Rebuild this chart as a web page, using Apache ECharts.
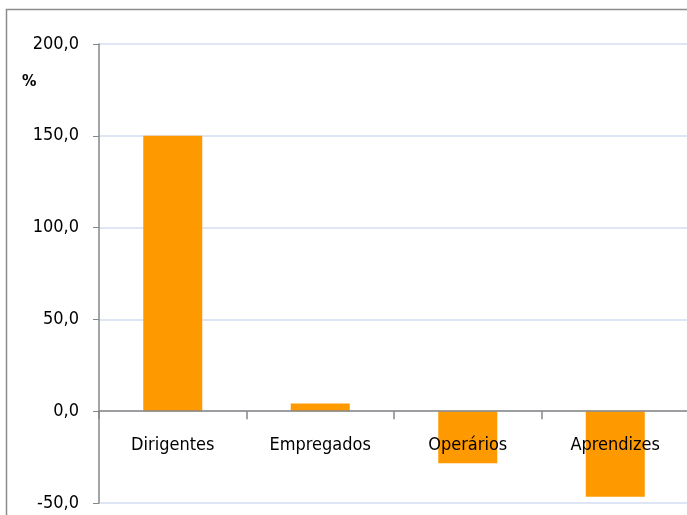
<!DOCTYPE html>
<html lang="pt">
<head>
    <meta charset="UTF-8">
    <title>Variação por categoria</title>
    <script src="https://cdnjs.cloudflare.com/ajax/libs/echarts/6.0.0/echarts.min.js"></script>
    <style>
        html, body { margin: 0; padding: 0; background: #fff; }
    </style>
</head>
<body>
    <div id="main" style="width: 687px;height:515px;"></div>
    <script>
        const categorias = ['Dirigentes', 'Empregados', 'Operários', 'Aprendizes'];
        const variacao = [150.0, 4.2, -28.3, -46.6];
        const fonte = "'Liberation Sans Narrow', 'Arial Narrow', 'DejaVu Sans Condensed', sans-serif";

        const myChart = echarts.init(document.getElementById('main'));

        // eixo das categorias desenhado na linha do zero (-50 a 200 => zero a 4/5 da altura)
        const alturaGrelha = 459;
        const deslocZero = -alturaGrelha * 50 / 250;

        let option = {
            animation: false,
            graphic: [
                {
                    type: 'rect',
                    shape: { x: 6.5, y: 9.5, width: 700, height: 520 },
                    style: { fill: 'none', stroke: '#8c8c8c', lineWidth: 1.5 }
                },
                {
                    type: 'text',
                    left: 22, top: 74,
                    style: { text: '%', font: 'bold 16px ' + fonte, fill: '#000' }
                }
            ],
            grid: { left: 99, top: 44, width: 590, height: alturaGrelha, outerBoundsMode: 'none', containLabel: false },
            xAxis: {
                type: 'category',
                data: categorias,
                offset: deslocZero,
                z: 5,
                axisLine: { onZero: false, lineStyle: { color: '#868686', width: 1.5 } },
                axisTick: { show: true, alignWithLabel: false, interval: 0, length: 8, lineStyle: { color: '#868686', width: 1.5 } },
                axisLabel: { color: '#000', fontFamily: fonte, fontSize: 18, margin: 25 }
            },
            yAxis: {
                type: 'value',
                min: -50,
                max: 200,
                interval: 50,
                axisLine: { show: true, lineStyle: { color: '#868686', width: 1.5 } },
                axisTick: { show: true, length: 6, lineStyle: { color: '#868686' } },
                axisLabel: {
                    color: '#000', fontFamily: fonte, fontSize: 18, margin: 20,
                    formatter: v => v.toFixed(1).replace('.', ',')
                },
                splitLine: { lineStyle: { color: '#d3def2', width: 1.5 } }
            },
            series: [
                {
                    type: 'bar',
                    data: variacao,
                    barWidth: 59,
                    z: 1,
                    itemStyle: { color: '#ff9900' }
                }
            ]
        };

        myChart.setOption(option);
    </script>
</body>
</html>
